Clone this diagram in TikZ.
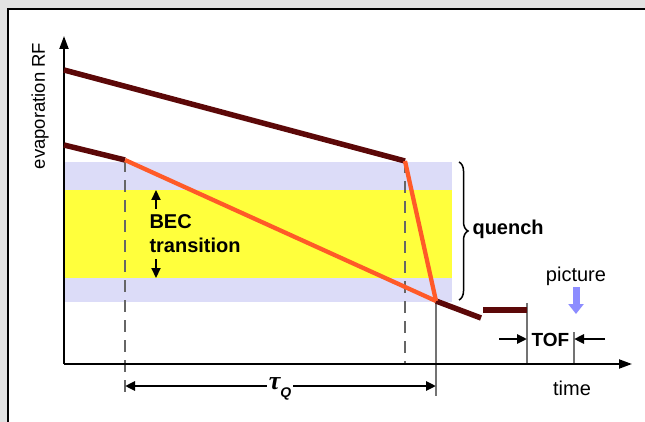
\documentclass[tikz,border=0pt]{standalone}
\usepackage{fontspec}
\setmainfont{Liberation Sans}
\newfontfamily\greekfont{Liberation Serif}
\usepackage{amsmath, amssymb}
\usetikzlibrary{arrows.meta, decorations.pathreplacing, calc}

\definecolor{rampdark}{HTML}{5C0808}
\definecolor{quenchorange}{HTML}{FF5A28}
\definecolor{bandlav}{HTML}{DCDCF8}
\definecolor{bandyellow}{HTML}{FFFF3C}
\definecolor{framegray}{HTML}{E2E2E2}
\definecolor{picblue}{HTML}{8C8CFF}

\tikzset{
  ramp/.style={rampdark, line width=5.5pt},
  quench ramp/.style={quenchorange, line width=4.3pt},
  marker/.style={black!60, line width=2.6pt, dash pattern=on 12pt off 8pt},
  guide/.style={black!55, line width=1.2pt},
  axis/.style={line width=2pt, -{Triangle[length=13pt,width=9pt]}},
  dimarrow/.style={line width=2.8pt, -{Triangle[length=10pt,width=9pt]}},
  lbl/.style={font=\fontsize{20}{24}\selectfont},
  boldlbl/.style={font=\fontsize{20}{24}\selectfont\bfseries},
}

\begin{document}
\begin{tikzpicture}[x=1pt, y=-1pt]
    \useasboundingbox (0,0) rectangle (645,422);

    % Frame
    \fill[framegray] (0,0) rectangle (645,422);
    \fill[white] (8,9) rectangle (645,422);
    \draw[line width=1.8pt] (8,422) -- (8,9) -- (645,9);

    % Key points
    \coordinate (O) at (64,364);
    \coordinate (start) at (125,160);
    \coordinate (knee) at (405,161);
    \coordinate (end) at (436,301);

    % Bands
    \fill[bandlav] (64,162) rectangle (452,302);
    \fill[bandyellow] (64,190) rectangle (452,278);

    % Markers
    \draw[marker] (start) -- (125,398);
    \draw[marker] (knee) -- (405,364);
    \draw[guide] (end) -- (436,396);
    \draw[guide] (527,303) -- (527,364);
    \draw[guide] (574,332) -- (574,364);

    % Axes
    \draw[axis] (O) -- (64,36);
    \draw[axis] (O) -- (632,364);
    \node[lbl, font=\fontsize{18.5}{22}\selectfont, rotate=90] (ylabel) at (40,106) {evaporation RF};
    \node[lbl] (xlabel) at (572,388) {time};

    % Ramps
    \draw[ramp] (64,70) -- (knee);
    \draw[ramp] (64,145) -- (start);
    \draw[ramp] (end) -- (481,318);
    \draw[ramp] (483,310) -- (527,310);
    \draw[quench ramp] (start) -- (end);
    \draw[quench ramp] (knee) -- (end);

    % BEC transition
    \draw[dimarrow, line width=2.2pt] (156,209) -- (156,190);
    \draw[dimarrow, line width=2.2pt] (156,259) -- (156,278);
    \node[boldlbl, anchor=west, align=left] (bec) at (146,234) {BEC\\transition};

    % Quench
    \draw[line width=1.5pt, decorate, decoration={brace, amplitude=9pt}] (459,162) -- (459,300);
    \node[boldlbl, anchor=west] (quench) at (469,229) {quench};

    % Picture and TOF
    \node[lbl] (picture) at (576,276) {picture};
    \draw[picblue, line width=7pt, -{Triangle[length=10pt,width=15pt]}] (576,287) -- (576,314);
    \draw[dimarrow] (499,339) -- (527,339);
    \draw[dimarrow] (605,339) -- (574,339);
    \node[boldlbl, font=\fontsize{19}{24}\selectfont\bfseries] (tof) at (550.5,340) {TOF};

    % Quench time
    \draw[dimarrow, {Triangle[length=10pt,width=9pt]}-{Triangle[length=10pt,width=9pt]}] (125,386) -- (436,386);
    \node[fill=white, inner sep=2pt] (tauq) at (280,389)
      {{\greekfont\fontsize{26}{28}\selectfont\bfseries\itshape τ}\raisebox{-8pt}{\fontsize{14}{16}\selectfont\bfseries\itshape Q}};
\end{tikzpicture}
\end{document}
